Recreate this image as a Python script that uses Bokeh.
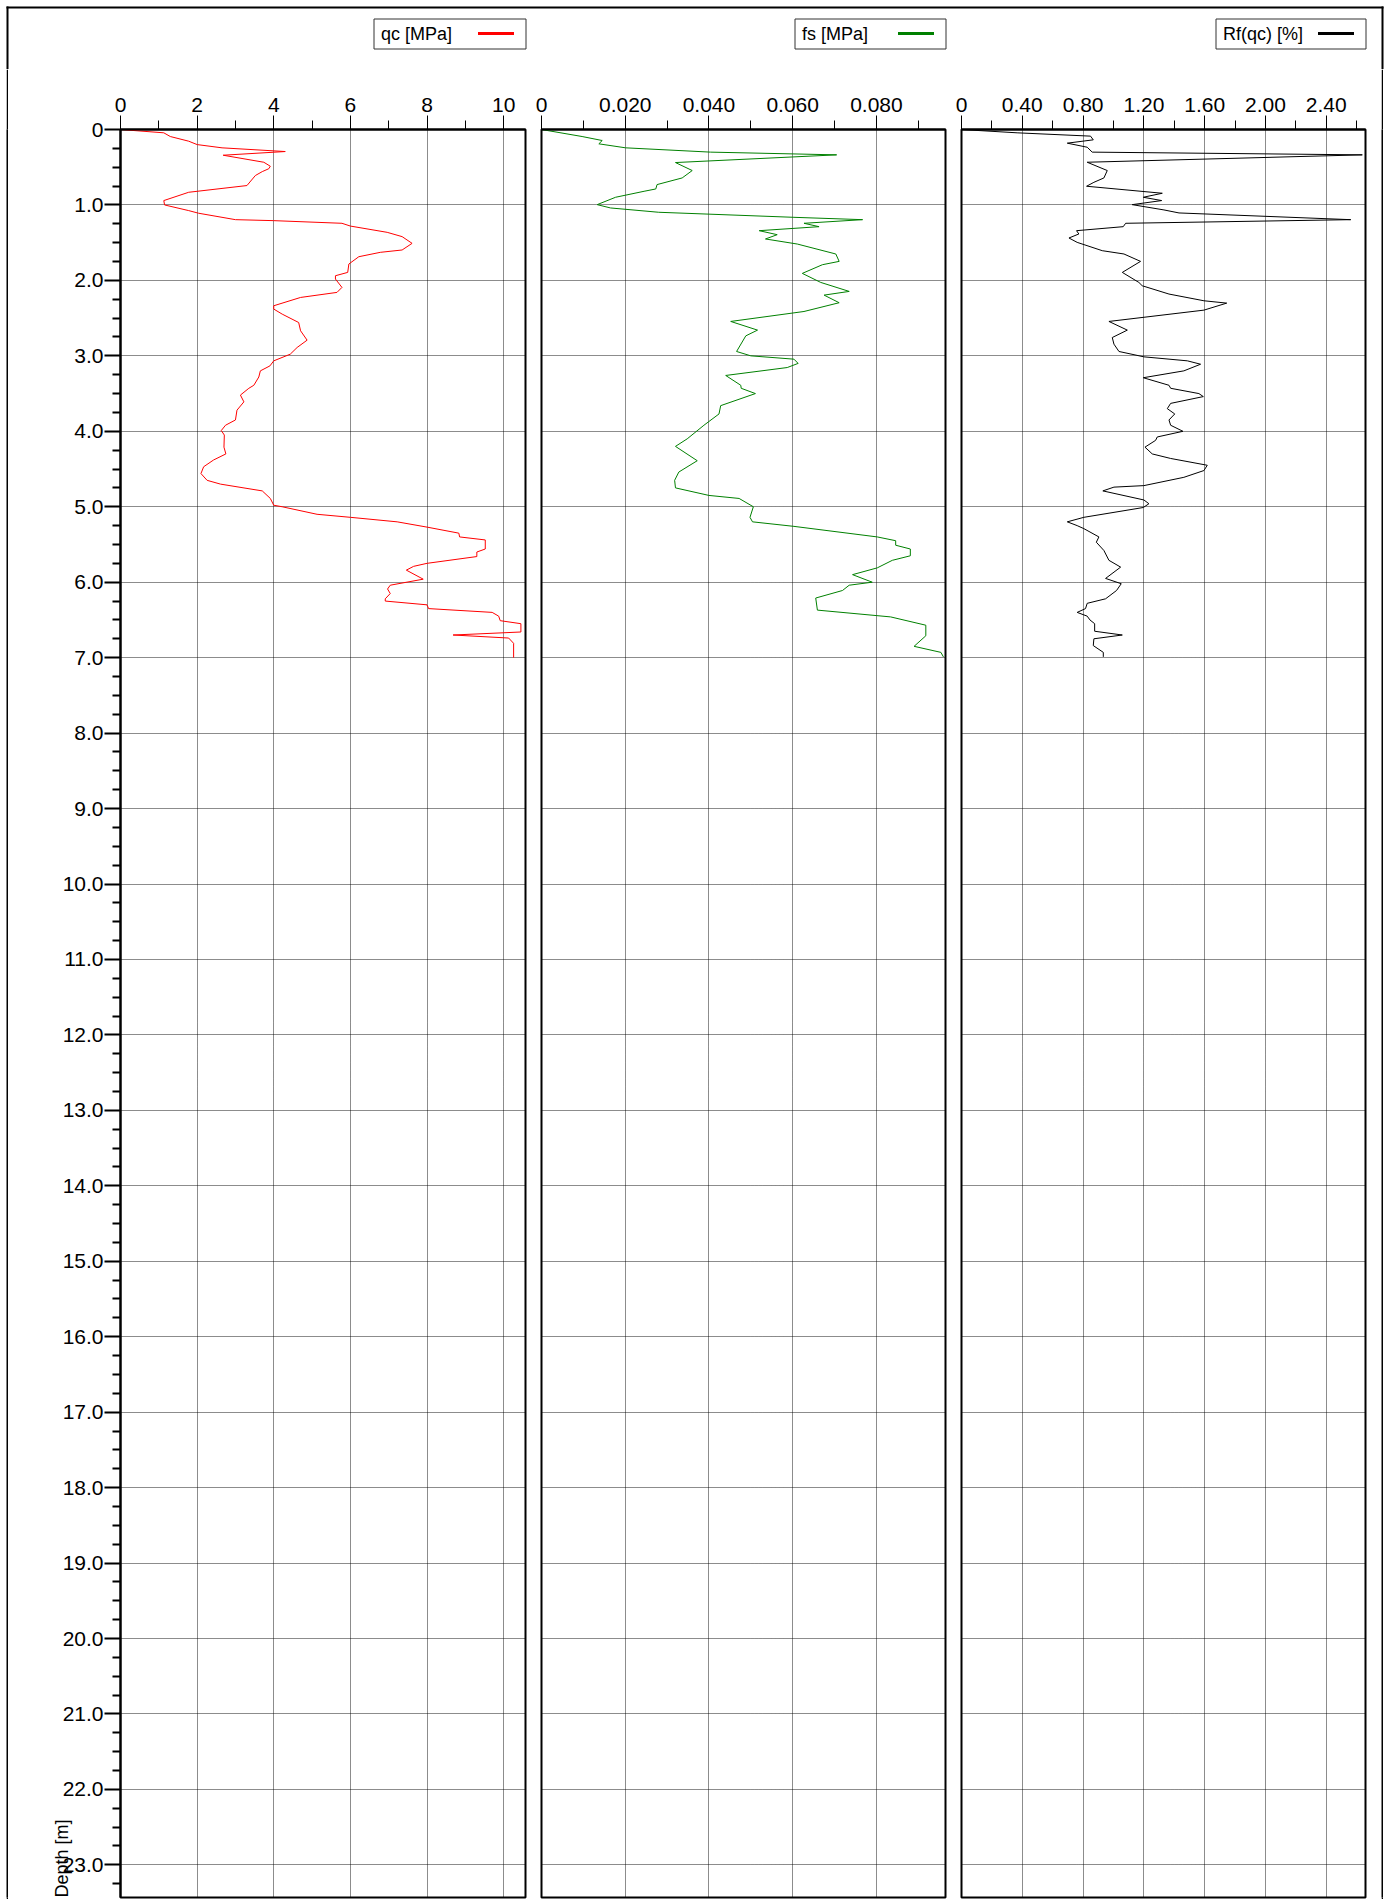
from bokeh.plotting import figure
from bokeh.models import Range1d, FixedTicker, Title, Spacer
from bokeh.layouts import row, column
from bokeh.core.properties import value
from bokeh.embed import file_html
from bokeh.resources import INLINE

# ---------------- data ----------------
qc_depth = [0.0, 0.044, 0.093, 0.155, 0.20, 0.243, 0.292, 0.341, 0.434, 0.487, 0.52, 0.558, 0.61, 0.743,
            0.832, 0.942, 1.0, 1.075, 1.11, 1.195, 1.208, 1.243, 1.28, 1.363, 1.42, 1.509, 1.597, 1.628,
            1.686, 1.783, 1.894, 1.938, 1.982, 2.093, 2.159, 2.226, 2.336, 2.38, 2.447, 2.558, 2.668,
            2.792, 2.889, 2.978, 3.066, 3.133, 3.199, 3.28, 3.39, 3.43, 3.52, 3.61, 3.72, 3.85, 3.92,
            3.99, 4.05, 4.21, 4.30, 4.38, 4.47, 4.56, 4.65, 4.70, 4.79, 4.89, 4.98, 5.0, 5.10, 5.14,
            5.20, 5.27, 5.35, 5.40, 5.44, 5.56, 5.60, 5.66, 5.75, 5.79, 5.84, 5.96, 6.04, 6.09, 6.15,
            6.22, 6.25, 6.30, 6.35, 6.40, 6.45, 6.51, 6.55, 6.66, 6.70, 6.74, 6.81, 7.0]
qc_val = [0.0, 1.13, 1.30, 1.78, 2.0, 2.65, 4.30, 2.68, 3.74, 3.91, 3.87, 3.70, 3.52, 3.30,
          1.78, 1.13, 1.15, 1.78, 2.04, 3.0, 4.0, 5.78, 6.0, 6.96, 7.35, 7.61, 7.35, 6.78,
          6.22, 5.96, 5.93, 5.61, 5.61, 5.78, 5.65, 4.70, 4.0, 4.0, 4.22, 4.65, 4.70,
          4.87, 4.61, 4.43, 4.0, 3.90, 3.65, 3.61, 3.48, 3.35, 3.13, 3.22, 3.04, 3.0, 2.74,
          2.63, 2.71, 2.70, 2.75, 2.43, 2.17, 2.10, 2.26, 2.61, 3.70, 3.91, 4.0, 4.22, 5.13, 6.0,
          7.22, 8.0, 8.83, 8.85, 9.52, 9.52, 9.30, 9.30, 8.0, 7.65, 7.46, 7.90, 7.04, 6.97, 7.04,
          6.91, 6.91, 8.0, 8.04, 9.70, 9.87, 9.91, 10.45, 10.45, 8.68, 10.13, 10.26, 10.26]

fs_depth = [0.0, 0.093, 0.146, 0.19, 0.243, 0.30, 0.336, 0.438, 0.544, 0.642, 0.73, 0.788, 0.819, 0.898,
            0.996, 1.04, 1.097, 1.164, 1.195, 1.243, 1.288, 1.341, 1.394, 1.451, 1.518, 1.65, 1.748,
            1.792, 1.907, 2.027, 2.146, 2.195, 2.296, 2.412, 2.544, 2.659, 2.735, 2.942, 3.0, 3.044,
            3.10, 3.155, 3.26, 3.39, 3.43, 3.50, 3.66, 3.77, 3.92, 4.10, 4.20, 4.39, 4.54, 4.65,
            4.75, 4.85, 4.89, 5.0, 5.14, 5.20, 5.26, 5.40, 5.45, 5.51, 5.56, 5.65, 5.71, 5.81, 5.90,
            6.0, 6.04, 6.11, 6.21, 6.37, 6.46, 6.57, 6.71, 6.85, 6.93, 6.99]
fs_val = [0.0, 0.0097, 0.0145, 0.0137, 0.0201, 0.0404, 0.0705, 0.0320, 0.0360, 0.0336, 0.0276, 0.0273,
          0.0245, 0.0177, 0.0133, 0.0165, 0.0280, 0.0603, 0.0767, 0.0627, 0.0663, 0.0520, 0.0563,
          0.0535, 0.0611, 0.0703, 0.0711, 0.0671, 0.0623, 0.0667, 0.0735, 0.0675, 0.0711, 0.0627,
          0.0452, 0.0516, 0.0488, 0.0466, 0.0500, 0.0603, 0.0613, 0.0587, 0.0440, 0.0476, 0.0477,
          0.0511, 0.0428, 0.0424, 0.0388, 0.0348, 0.0320, 0.0372, 0.0328, 0.0318, 0.0320, 0.0400,
          0.0472, 0.0506, 0.0498, 0.0504, 0.0603, 0.0802, 0.0846, 0.0846, 0.0881, 0.0881, 0.0838,
          0.0802, 0.0743, 0.0790, 0.0735, 0.0719, 0.0655, 0.0659, 0.0834, 0.0918, 0.0918, 0.0890,
          0.0954, 0.0960]

rf_depth = [0.0, 0.044, 0.088, 0.137, 0.181, 0.235, 0.30, 0.336, 0.434, 0.544, 0.642, 0.70, 0.752,
            0.845, 0.898, 0.942, 0.996, 1.066, 1.106, 1.195, 1.243, 1.288, 1.341, 1.385, 1.438, 1.496,
            1.606, 1.65, 1.748, 1.894, 2.027, 2.071, 2.181, 2.27, 2.301, 2.394, 2.544, 2.659, 2.757,
            2.845, 2.942, 3.013, 3.066, 3.111, 3.199, 3.29, 3.39, 3.43, 3.50, 3.54, 3.63, 3.70, 3.77,
            3.85, 3.92, 4.0, 4.075, 4.12, 4.21, 4.30, 4.36, 4.45, 4.52, 4.61, 4.72, 4.74, 4.79, 4.91,
            4.96, 5.01, 5.14, 5.20, 5.25, 5.29, 5.40, 5.47, 5.58, 5.71, 5.80, 5.95, 6.02, 6.11, 6.22,
            6.28, 6.35, 6.40, 6.45, 6.50, 6.55, 6.65, 6.70, 6.75, 6.84, 6.93, 6.99]
rf_val = [0.0, 0.366, 0.849, 0.867, 0.696, 0.827, 0.860, 2.637, 0.827, 0.959, 0.937, 0.871, 0.823,
          1.321, 1.196, 1.317, 1.123, 1.332, 1.431, 2.561, 1.080, 1.064, 0.757, 0.772, 0.707, 0.761,
          0.926, 1.069, 1.178, 1.058, 1.167, 1.189, 1.365, 1.595, 1.745, 1.595, 0.970, 1.091, 0.992,
          1.003, 1.036, 1.200, 1.486, 1.573, 1.463, 1.196, 1.365, 1.376, 1.562, 1.591, 1.376, 1.354,
          1.403, 1.365, 1.376, 1.457, 1.288, 1.277, 1.207, 1.255, 1.376, 1.617, 1.595, 1.463, 1.200,
          1.003, 0.930, 1.200, 1.233, 1.196, 0.805, 0.696, 0.761, 0.805, 0.904, 0.887, 0.937, 0.970,
          1.047, 0.948, 1.051, 1.020, 0.948, 0.827, 0.816, 0.761, 0.827, 0.845, 0.876, 0.876, 1.058,
          0.871, 0.867, 0.933, 0.933]

# ---------------- ticks / labels ----------------
depth_ticks = list(range(0, 24))
depth_tick_labels = ["0"] + [f"{d}.0" for d in range(1, 24)]

qc_ticks = [0, 2, 4, 6, 8, 10]
qc_tick_labels = ["0", "2", "4", "6", "8", "10"]
qc_minor = [1, 3, 5, 7, 9]

fs_ticks = [0, 0.02, 0.04, 0.06, 0.08]
fs_tick_labels = ["0", "0.020", "0.040", "0.060", "0.080"]
fs_minor = [0.01, 0.03, 0.05, 0.07, 0.09]

rf_ticks = [0, 0.4, 0.8, 1.2, 1.6, 2.0, 2.4]
rf_tick_labels = ["0", "0.40", "0.80", "1.20", "1.60", "2.00", "2.40"]
rf_minor = [0.2, 0.6, 1.0, 1.4, 1.8, 2.2, 2.6]

legend_labels = ["qc [MPa]", "fs [MPa]", "Rf(qc) [%]"]
series_colors = ["#ff0000", "#008000", "#000000"]
y_title = "Depth [m]"

FONT = "Liberation Sans"
TICK_FS = "21px"
LEG_FS = "18px"

# ---------------- layout geometry (page pixels, layout origin at 0,0) ----------------
TOTAL_W = 1386
HEADER_H = 69                    # page y 0..69
ROW_H = 1830                     # page y 69..1899
FRAME_TOP = 129
FRAME_BOTTOM = 1897
MB_TOP = FRAME_TOP - HEADER_H
MB_BOTTOM = HEADER_H + ROW_H - FRAME_BOTTOM
FH = FRAME_BOTTOM - FRAME_TOP
PX_PER_M = 75.45
DMAX = FH / PX_PER_M

OUTER_L, OUTER_T, OUTER_R = 6, 6, 1383            # outer frame (2 px lines)
frames = [(120, 525), (541, 945), (961, 1365)]   # page x of the three plot frames
legend_widths = [152, 151, 150]


def make_panel(xmax, ticks, tick_labels, minor, width, left, right, show_y):
    p = figure(width=width, height=ROW_H, x_range=Range1d(0, xmax), y_range=Range1d(DMAX, 0),
               x_axis_location="above", output_backend="svg", toolbar_location=None, title=None,
               min_border_left=left, min_border_right=right, min_border_top=MB_TOP,
               min_border_bottom=MB_BOTTOM, background_fill_color="white", border_fill_color="white")
    p.outline_line_color = "black"
    p.outline_line_width = 2

    xa = p.xaxis[0]
    xa.ticker = FixedTicker(ticks=ticks, minor_ticks=minor)
    xa.major_label_overrides = {t: l for t, l in zip(ticks, tick_labels)}
    xa.major_tick_out = 14
    xa.major_tick_in = 0
    xa.minor_tick_out = 9
    xa.minor_tick_in = 0
    xa.axis_line_width = 2
    xa.major_tick_line_width = 1
    xa.minor_tick_line_width = 1
    xa.major_label_text_font = FONT
    xa.major_label_text_font_size = TICK_FS
    xa.major_label_text_color = "black"
    xa.major_label_standoff = 4

    ya = p.yaxis[0]
    depth_minor = [d / 4 for d in range(0, 94) if d % 4 != 0]
    ya.ticker = FixedTicker(ticks=depth_ticks, minor_ticks=depth_minor)
    ya.major_label_overrides = {t: l for t, l in zip(depth_ticks, depth_tick_labels)}
    ya.major_tick_out = 16
    ya.major_tick_in = 0
    ya.minor_tick_out = 8
    ya.minor_tick_in = 0
    ya.axis_line_width = 2
    ya.major_tick_line_width = 2
    ya.minor_tick_line_width = 2
    ya.major_label_text_font = FONT
    ya.major_label_text_font_size = TICK_FS
    ya.major_label_text_color = "black"
    ya.major_label_standoff = 1
    if not show_y:
        ya.visible = False

    p.xgrid.ticker = FixedTicker(ticks=ticks)
    p.ygrid.ticker = FixedTicker(ticks=depth_ticks)
    for g in (p.xgrid[0], p.ygrid[0]):
        g.grid_line_color = "black"
        g.grid_line_alpha = 0.9
        g.grid_line_width = 1
        g.grid_line_dash = "1 1"
    return p


def black_strip(width):
    # a 2 px black column: one vertical side of the outer frame
    s = figure(width=width, height=ROW_H, output_backend="svg", toolbar_location=None, title=None,
               x_axis_location=None, y_axis_location=None, min_border=0,
               background_fill_color="black", border_fill_color="black")
    s.outline_line_color = None
    s.grid.visible = False
    return s


# ---------------- header with the legend boxes ----------------
header = figure(width=TOTAL_W, height=HEADER_H, output_backend="svg", toolbar_location=None, title=None,
                x_range=Range1d(0, TOTAL_W), y_range=Range1d(HEADER_H, 0),
                x_axis_location=None, y_axis_location=None, min_border=0,
                background_fill_color="white", border_fill_color="white")
header.outline_line_color = None
header.grid.visible = False

header.quad(left=[OUTER_L, OUTER_L, OUTER_R - 2], right=[OUTER_R, OUTER_L + 2, OUTER_R],
            top=[OUTER_T, OUTER_T, OUTER_T], bottom=[OUTER_T + 2, HEADER_H, HEADER_H],
            fill_color="black", line_color=None)

box_right = [fr[1] + 0.5 for fr in frames]
box_left = [r - w for r, w in zip(box_right, legend_widths)]
header.quad(left=box_left, right=box_right, top=[18.5] * 3, bottom=[48.5] * 3,
            fill_alpha=0, line_color="#333333", line_width=1)
header.text(x=[l + 7 for l in box_left], y=[33] * 3, text=legend_labels,
            text_font=value(FONT), text_font_size=value(LEG_FS), text_color="black",
            text_baseline="middle", text_align="left")
header.segment(x0=[r - 48 for r in box_right], x1=[r - 12 for r in box_right], y0=[33] * 3, y1=[33] * 3,
               line_color=series_colors, line_width=3)

# ---------------- the three panels ----------------
# page x: spacer 0..6, strip 6..8, p1 8..533, p2 533..953, p3 953..1381, strip 1381..1383, spacer ..1386
p1 = make_panel(10.57, qc_ticks, qc_tick_labels, qc_minor, 525, 112, 8, True)
p1.line(x=qc_val, y=qc_depth, line_color=series_colors[0], line_width=1)
p1.add_layout(Title(text=y_title, align="left", text_font=FONT, text_font_size=LEG_FS,
                    text_font_style="normal", text_color="black", standoff=-24, offset=0), "left")

p2 = make_panel(0.0965, fs_ticks, fs_tick_labels, fs_minor, 420, 8, 8, False)
p2.line(x=fs_val, y=fs_depth, line_color=series_colors[1], line_width=1)

p3 = make_panel(2.658, rf_ticks, rf_tick_labels, rf_minor, 428, 8, 16, False)
p3.line(x=rf_val, y=rf_depth, line_color=series_colors[2], line_width=1)

lower = row(Spacer(width=OUTER_L, height=ROW_H), black_strip(2), p1, p2, p3, black_strip(2),
            Spacer(width=TOTAL_W - OUTER_R, height=ROW_H))
layout = column(header, lower)
open("out.html", "w").write(file_html(layout, INLINE))
